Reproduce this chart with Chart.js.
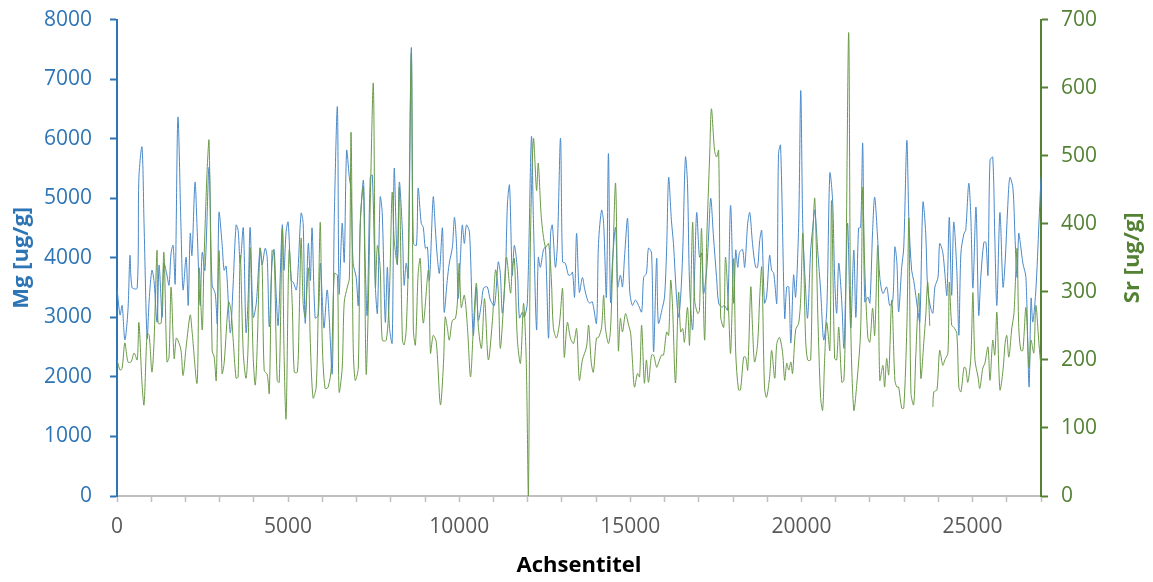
<!DOCTYPE html>
<html>
<head>
<meta charset="utf-8">
<script src="https://cdn.jsdelivr.net/npm/chart.js@4.4.1/dist/chart.umd.min.js"></script>
<style>
  html, body { margin: 0; padding: 0; background: #fff; overflow: hidden; }
  #frame { width: 1153px; height: 582px; position: relative; overflow: hidden; }
  /* taller box pulled up so the plot top lands where the tick labels would otherwise push it down */
  #wrap { width: 1153px; height: 593px; position: absolute; top: -11px; left: 0; }
</style>
</head>
<body>
<div id="frame"><div id="wrap"><canvas id="chart"></canvas></div></div>
<script>
// --- Mg series (x = Achsentitel, y = ug/g) ---
const mgX = [0, 90, 150, 230, 320, 380, 440, 590, 640, 730, 790, 880, 940, 1020, 1080, 1170, 1230, 1320, 1370, 1460,
  1520, 1580, 1640, 1700, 1780, 1870, 1930, 2020, 2080, 2140, 2190, 2280, 2340, 2430, 2490, 2570, 2690, 2780, 2870, 2930,
  2980, 3070, 3130, 3190, 3310, 3390, 3480, 3540, 3600, 3690, 3770, 3830, 3890, 3980, 4070, 4180, 4240, 4330, 4390, 4450,
  4530, 4590, 4650, 4710, 4830, 4880, 4940, 5000, 5090, 5150, 5240, 5290, 5380, 5440, 5500, 5590, 5650, 5700, 5790, 5880,
  5940, 6000, 6050, 6140, 6200, 6290, 6350, 6440, 6490, 6580, 6640, 6710, 6790, 6840, 6900, 6990, 7050, 7110, 7200, 7250,
  7310, 7400, 7460, 7550, 7610, 7690, 7750, 7840, 7900, 7960, 8040, 8100, 8190, 8250, 8340, 8390, 8450, 8510, 8600, 8660,
  8750, 8800, 8890, 8950, 9010, 9070, 9130, 9240, 9300, 9360, 9420, 9510, 9560, 9650, 9710, 9800, 9860, 9920, 9970, 10030,
  10090, 10150, 10210, 10300, 10410, 10500, 10560, 10650, 10710, 10820, 10910, 11030, 11140, 11200, 11260, 11350, 11410, 11470, 11550, 11610,
  11700, 11760, 11850, 11900, 11990, 12110, 12170, 12260, 12310, 12370, 12460, 12520, 12610, 12670, 12720, 12810, 12870, 12960, 13020, 13100,
  13190, 13250, 13310, 13370, 13430, 13510, 13600, 13660, 13750, 13810, 13890, 14010, 14070, 14160, 14220, 14300, 14360, 14420, 14480, 14570,
  14630, 14710, 14770, 14830, 14920, 14980, 15060, 15150, 15240, 15330, 15390, 15470, 15530, 15620, 15680, 15770, 15820, 15940, 16000, 16060,
  16120, 16200, 16260, 16350, 16410, 16470, 16530, 16610, 16670, 16730, 16820, 16880, 16940, 17020, 17080, 17140, 17230, 17290, 17350, 17430,
  17520, 17580, 17670, 17750, 17840, 17930, 18020, 18080, 18140, 18190, 18280, 18340, 18430, 18490, 18570, 18660, 18720, 18780, 18840, 18920,
  18980, 19070, 19130, 19190, 19280, 19330, 19390, 19510, 19570, 19630, 19690, 19770, 19830, 19920, 19980, 20040, 20120, 20180, 20270, 20330,
  20390, 20480, 20560, 20650, 20740, 20830, 20910, 20970, 21030, 21090, 21180, 21240, 21290, 21350, 21440, 21530, 21590, 21670, 21730, 21790,
  21850, 21940, 22000, 22080, 22140, 22230, 22290, 22380, 22490, 22580, 22670, 22730, 22790, 22840, 22930, 22990, 23080, 23140, 23220, 23280,
  23400, 23460, 23550, 23630, 23690, 23780, 23840, 23900, 23990, 24040, 24130, 24190, 24250, 24320, 24390, 24450, 24540, 24600, 24660, 24750,
  24800, 24890, 24950, 25010, 25100, 25180, 25240, 25330, 25390, 25450, 25510, 25590, 25650, 25710, 25800, 25890, 25950, 26030, 26090, 26180,
  26240, 26300, 26350, 26410, 26470, 26560, 26650, 26710, 26760, 26850, 26940, 27000];
const mgY = [3490, 3040, 3200, 2620, 3120, 4040, 3500, 3490, 5350, 5860, 4580, 2650, 3290, 3790, 3620, 2920, 3880, 3000, 3910, 3710,
  3540, 4080, 4210, 3570, 6360, 4510, 3460, 4010, 3200, 4410, 4040, 5270, 4510, 3200, 4090, 3790, 5520, 3540, 3400, 2900,
  4760, 4240, 3790, 3860, 2740, 3510, 4550, 4460, 3910, 4500, 2750, 3290, 4510, 3000, 3240, 4160, 3880, 4160, 3990, 2840,
  3910, 4140, 3400, 2870, 4550, 3790, 4430, 4600, 3620, 3590, 3460, 3790, 4750, 4580, 2900, 4240, 3620, 4500, 2990, 3040,
  3910, 3290, 2820, 3460, 3000, 2060, 4680, 6530, 3400, 4580, 3930, 5800, 5350, 5130, 3910, 3670, 3200, 4580, 5300, 4010,
  3040, 5350, 5390, 3510, 3070, 5020, 4760, 2920, 3840, 2840, 2570, 5500, 3880, 5270, 4430, 3540, 3910, 3660, 7530, 4240,
  4210, 5170, 4580, 4510, 4160, 4180, 3620, 5020, 4510, 4010, 3740, 4500, 3090, 3620, 3910, 4180, 4680, 4240, 3320, 3930,
  4550, 4240, 4550, 4430, 2700, 3510, 2950, 3240, 3490, 3510, 3290, 3200, 3930, 3740, 3070, 3740, 4920, 5220, 3710, 4210,
  3790, 2990, 3090, 3000, 3240, 6030, 4580, 2790, 4010, 3840, 4130, 4180, 2650, 4410, 4550, 3840, 4240, 6010, 3930, 3910,
  3710, 3710, 3760, 3340, 4410, 3420, 3670, 3490, 3290, 3240, 3260, 2900, 4240, 4800, 4580, 3340, 5750, 3260, 3960, 4510,
  3510, 3710, 3510, 4010, 4660, 3460, 3200, 3290, 3200, 3090, 3670, 3740, 4160, 4080, 2420, 3990, 2900, 3170, 3340, 4130,
  5350, 4630, 4240, 3340, 3000, 3340, 4080, 5690, 5250, 3570, 2790, 3790, 4760, 4010, 4080, 3400, 3790, 4400, 5000, 4350,
  3670, 3240, 3170, 3200, 3120, 4880, 3240, 4130, 3840, 4090, 4140, 3840, 4580, 4760, 4240, 3840, 3840, 4290, 4460, 3240,
  3340, 4040, 3790, 3740, 3240, 5750, 5890, 2990, 3510, 3510, 2570, 3710, 3340, 4580, 6810, 4510, 3490, 2990, 4130, 4500,
  4800, 4080, 3460, 2620, 3120, 5420, 4970, 3670, 3070, 3910, 3240, 2480, 3400, 4580, 2820, 4130, 3000, 4500, 4510, 5920,
  3260, 3340, 3240, 4460, 5020, 4290, 3670, 3400, 3510, 3200, 3290, 4180, 3910, 3090, 3840, 4180, 5970, 4630, 3790, 3620,
  3120, 2920, 4930, 4430, 3460, 3150, 3070, 3510, 3670, 4240, 4090, 3740, 3370, 4680, 3370, 4600, 3790, 2700, 4080, 4410,
  4460, 5250, 4680, 3490, 4850, 3040, 3670, 4260, 4260, 3710, 5640, 5690, 4350, 3200, 4760, 3510, 3910, 4880, 5350, 5170,
  4350, 3670, 4410, 4180, 3910, 3670, 1830, 3320, 2920, 3460, 4580, 5350];

// --- Sr series (null = no measurement) ---
const srX = [0, 90, 150, 230, 320, 410, 500, 590, 640, 730, 790, 880, 940, 1020, 1080, 1170, 1200, 1290, 1370, 1460,
  1520, 1580, 1670, 1730, 1780, 1870, 1930, 2020, 2140, 2190, 2340, 2400, 2490, 2540, 2630, 2690, 2780, 2840, 2900, 2980,
  3070, 3130, 3260, 3330, 3390, 3480, 3540, 3600, 3690, 3770, 3830, 3890, 3980, 4040, 4100, 4180, 4240, 4300, 4390, 4450,
  4530, 4590, 4680, 4740, 4830, 4880, 4940, 5030, 5120, 5180, 5270, 5320, 5380, 5440, 5500, 5590, 5650, 5730, 5820, 5880,
  5940, 6000, 6080, 6170, 6260, 6350, 6440, 6490, 6580, 6640, 6730, 6790, 6840, 6900, 6960, 7050, 7110, 7200, 7280, 7340,
  7400, 7490, 7550, 7610, 7690, 7750, 7870, 7960, 8040, 8100, 8190, 8250, 8340, 8390, 8450, 8510, 8600, 8660, 8720, 8800,
  8860, 8950, 9100, 9160, 9240, 9330, 9450, 9540, 9590, 9650, 9710, 9800, 9890, 9950, 10000, 10060, 10150, 10240, 10330, 10410,
  10500, 10560, 10650, 10740, 10850, 10970, 11060, 11140, 11200, 11290, 11380, 11500, 11550, 11610, 11700, 11790, 11880, 11960, 12020, 12080,
  12170, 12260, 12310, 12400, 12520, 12610, 12690, 12750, 12840, 12930, 13020, 13070, 13160, 13250, 13340, 13430, 13510, 13600, 13720, 13780,
  13860, 13920, 14010, 14070, 14160, 14220, 14270, 14360, 14420, 14480, 14570, 14650, 14710, 14770, 14860, 14950, 15010, 15060, 15120, 15210,
  15270, 15330, 15410, 15470, 15530, 15620, 15680, 15770, 15820, 15910, 15970, 16060, 16120, 16180, 16230, 16320, 16410, 16470, 16530, 16580,
  16670, 16730, 16820, 16880, 16970, 17020, 17080, 17170, 17230, 17320, 17370, 17460, 17520, 17580, 17640, 17730, 17780, 17870, 17930, 18020,
  18080, 18160, 18220, 18310, 18370, 18430, 18520, 18570, 18630, 18720, 18780, 18840, 18920, 18980, 19070, 19130, 19220, 19280, 19360, 19450,
  19510, 19570, 19630, 19690, 19740, 19830, 19920, 19980, 20040, 20120, 20180, 20270, 20330, 20390, 20480, 20560, 20620, 20680, 20740, 20830,
  20880, 20970, 21030, 21090, 21180, 21240, 21290, 21380, 21440, 21530, 21620, 21730, 21790, 21850, 21940, 22000, 22080, 22140, 22230, 22290,
  22380, 22430, 22490, 22550, 22640, 22730, 22790, 22840, 22930, 22990, 23080, 23140, 23200, 23280, 23340, 23430, 23490, 23580, 23630, 23690,
  23750, 23800, 23840, 23870, 23960, 24040, 24130, 24190, 24280, 24320, 24390, 24450, 24540, 24600, 24660, 24750, 24800, 24860, 24950, 25010,
  25070, 25160, 25210, 25300, 25360, 25450, 25510, 25590, 25650, 25710, 25800, 25890, 25950, 26000, 26060, 26150, 26210, 26300, 26350, 26410,
  26470, 26560, 26650, 26710, 26790, 26850, 26940, 27000];
const srY = [200, 185, 188, 225, 197, 197, 210, 200, 255, 166, 134, 239, 236, 182, 224, 361, 254, 254, 358, 197,
  204, 307, 202, 232, 229, 214, 177, 219, 266, 244, 166, 335, 244, 342, 474, 522, 214, 204, 170, 361,
  180, 195, 285, 273, 233, 173, 175, 354, 210, 173, 219, 365, 204, 163, 224, 364, 339, 185, 178, 151,
  361, 356, 170, 167, 393, 214, 114, 361, 283, 182, 182, 254, 379, 283, 263, 335, 224, 144, 160, 273,
  402, 222, 158, 160, 188, 327, 324, 153, 188, 285, 307, 320, 534, 224, 170, 188, 405, 453, 180, 273,
  430, 606, 307, 368, 336, 229, 229, 298, 446, 376, 342, 453, 229, 222, 244, 342, 650, 244, 222, 327,
  349, 254, 332, 210, 236, 226, 134, 195, 263, 248, 229, 258, 261, 288, 342, 277, 295, 248, 175, 244,
  313, 248, 217, 290, 200, 258, 332, 302, 217, 276, 351, 298, 336, 349, 229, 195, 283, 195, 0, 371,
  525, 449, 489, 409, 365, 371, 321, 248, 232, 254, 305, 204, 255, 232, 224, 246, 170, 200, 219, 251,
  195, 182, 232, 233, 248, 295, 248, 224, 244, 332, 459, 214, 261, 241, 268, 251, 239, 200, 160, 180,
  175, 251, 166, 200, 167, 207, 207, 189, 195, 207, 207, 241, 236, 317, 283, 166, 299, 241, 246, 226,
  277, 222, 402, 288, 268, 273, 393, 229, 371, 503, 569, 508, 498, 508, 263, 248, 351, 273, 210, 349,
  210, 156, 156, 204, 204, 185, 307, 248, 197, 224, 292, 336, 160, 145, 175, 214, 173, 224, 233, 210,
  170, 195, 185, 197, 180, 244, 254, 292, 386, 233, 200, 200, 376, 437, 263, 145, 126, 204, 255, 214,
  434, 202, 200, 248, 167, 170, 273, 681, 254, 126, 166, 244, 453, 336, 233, 226, 276, 236, 368, 170,
  192, 160, 202, 178, 288, 170, 160, 160, 129, 129, 248, 408, 151, 134, 204, 298, 173, 229, 263, 314,
  250, null, 131, 153, 156, 214, 192, 200, 210, 314, 251, 248, 239, 160, 153, 189, 188, 167, 204, 299,
  200, 175, 158, 188, 195, 219, 170, 229, 207, 270, 156, 185, 224, 236, 204, 248, 268, 364, 248, 214,
  214, 277, 189, 229, 210, 280, 224, 189];

// --- axes ---
const X_MAX = 27000;
const MG_MAX = 8000;
const SR_MAX = 700;

const BLUE = '#2e75b6';
const GREEN = '#548235';
const FONT = '"Open Sans", "Liberation Sans", sans-serif';

const toPoints = (xs, ys) => xs.map((x, i) => ({ x: x, y: ys[i] }));

// titles drawn by hand so both vertical ones read bottom-to-top
const axisTitles = {
  id: 'axisTitles',
  afterDraw(chart) {
    const { ctx, chartArea } = chart;
    const midY = (chartArea.top + chartArea.bottom) / 2;
    ctx.save();
    ctx.font = 'bold 22px ' + FONT;
    ctx.textAlign = 'center';
    ctx.textBaseline = 'middle';

    ctx.fillStyle = '#000';
    ctx.fillText('Achsentitel', (chartArea.left + chartArea.right) / 2, chartArea.bottom + 70);

    [[BLUE, 'Mg [ug/g]', 22], [GREEN, 'Sr [ug/g]', 1133]].forEach(([col, txt, x]) => {
      ctx.save();
      ctx.translate(x, midY);
      ctx.rotate(-Math.PI / 2);
      ctx.fillStyle = col;
      ctx.fillText(txt, 0, 0);
      ctx.restore();
    });
    ctx.restore();
  }
};

new Chart(document.getElementById('chart'), {
  type: 'line',
  data: {
    datasets: [
      {
        label: 'Sr',
        data: toPoints(srX, srY),
        yAxisID: 'y1',
        borderColor: '#6a9a48',
        borderWidth: 1,
        pointRadius: 0,
        tension: 0.3,
        spanGaps: false,
        order: 1
      },
      {
        label: 'Mg',
        data: toPoints(mgX, mgY),
        yAxisID: 'y',
        borderColor: '#4a89c8',
        borderWidth: 1,
        pointRadius: 0,
        tension: 0.3,
        order: 2
      }
    ]
  },
  options: {
    responsive: true,
    maintainAspectRatio: false,
    animation: false,
    layout: { padding: { top: 8, left: 0, right: 0, bottom: 0 } },
    plugins: { legend: { display: false }, tooltip: { enabled: false } },
    scales: {
      x: {
        type: 'linear',
        min: 0,
        max: X_MAX,
        afterBuildTicks(scale) {
          const t = [];
          for (let v = 0; v <= X_MAX; v += 1000) t.push({ value: v });
          scale.ticks = t;
        },
        afterFit(scale) { scale.height = 86; },
        grid: { drawOnChartArea: false, tickLength: 6, tickColor: '#bfbfbf', tickWidth: 1.5 },
        border: { color: '#bfbfbf', width: 2 },
        ticks: {
          autoSkip: false,
          maxRotation: 0,
          padding: 12,
          color: '#595959',
          font: { family: FONT, size: 21 },
          callback: v => (v % 5000 === 0 ? String(v) : '')
        }
      },
      y: {
        position: 'left',
        min: 0,
        max: MG_MAX,
        afterFit(scale) { scale.width = 117; },
        grid: { drawOnChartArea: false, tickLength: 7, tickColor: BLUE, tickWidth: 2 },
        border: { color: BLUE, width: 2 },
        ticks: { stepSize: 1000, padding: 18, color: BLUE, font: { family: FONT, size: 21 }, callback: v => String(v) }
      },
      y1: {
        position: 'right',
        min: 0,
        max: SR_MAX,
        afterFit(scale) { scale.width = 112; },
        grid: { drawOnChartArea: false, tickLength: 7, tickColor: GREEN, tickWidth: 2 },
        border: { color: GREEN, width: 2 },
        ticks: { stepSize: 100, padding: 13, color: GREEN, font: { family: FONT, size: 21 }, callback: v => String(v) }
      }
    }
  },
  plugins: [axisTitles]
});
</script>
</body>
</html>
